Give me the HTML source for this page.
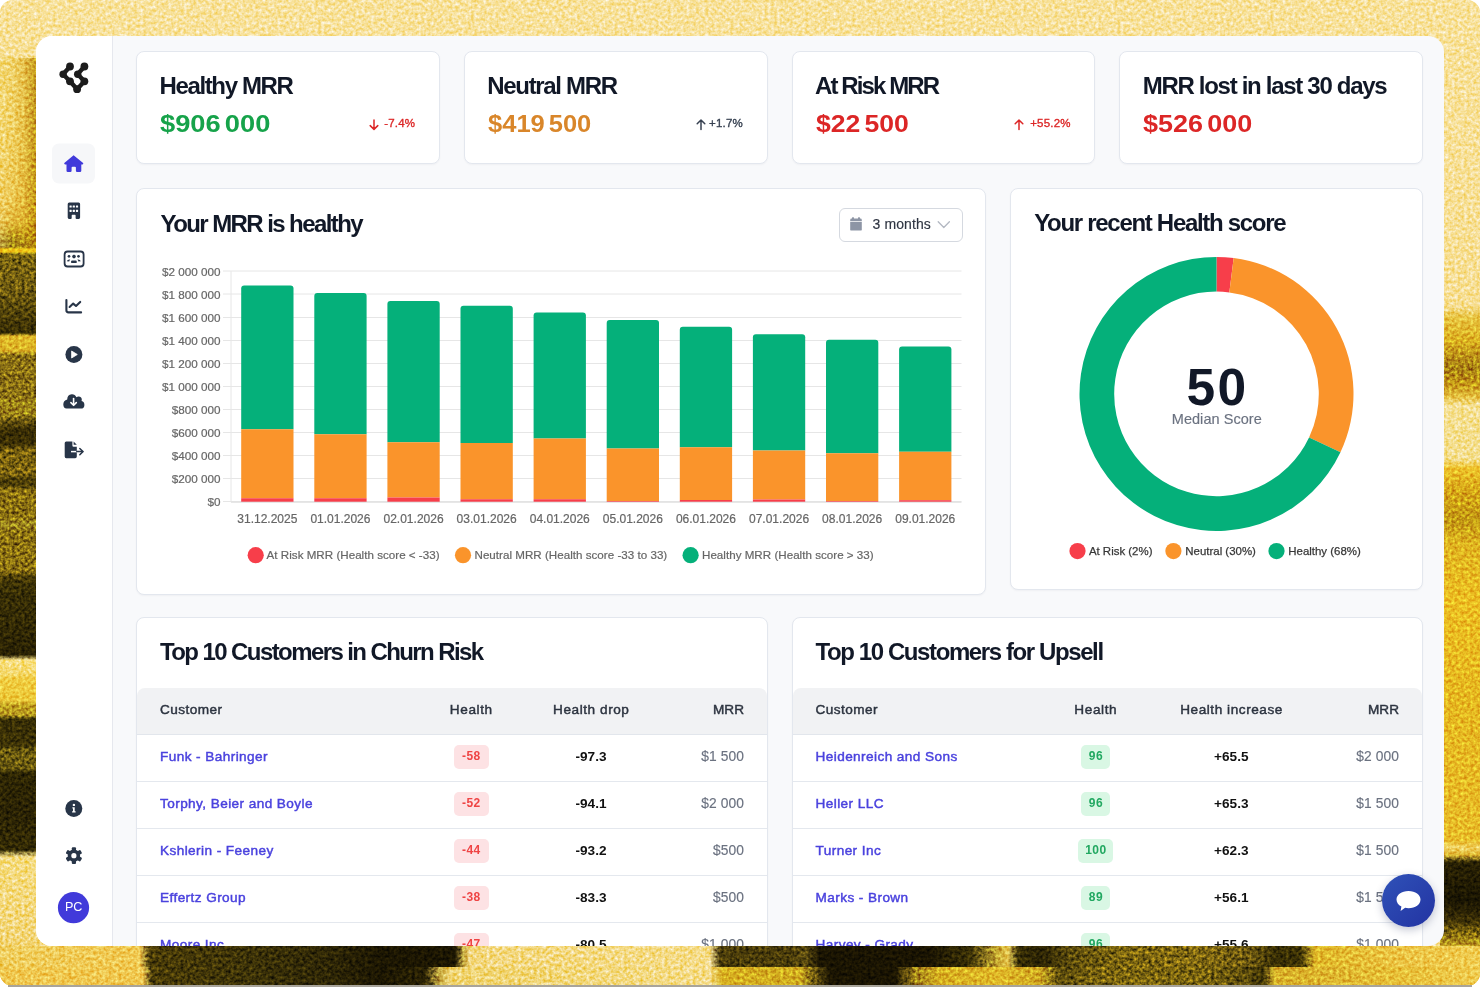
<!DOCTYPE html>
<html>
<head>
<meta charset="utf-8">
<style>
*{box-sizing:border-box;margin:0;padding:0}
html,body{width:1480px;height:987px;overflow:hidden;background:#fff}
body{position:relative;font-family:"Liberation Sans",Arial,sans-serif;color:#111827}
#bg{position:absolute;left:0;top:0;width:1480px;height:986px;border-radius:13px;overflow:hidden;background:#f8e29c}
#bgline{position:absolute;left:8px;top:985px;width:1464px;height:2px;background:#a8a49a}
.strip{position:absolute}
#pc{position:absolute;left:-36px;top:-36px;width:1480px;height:987px}

#sl{left:0;top:0;width:40px;height:986px;background:linear-gradient(to bottom,
 #f8e29c 0,#f7e096 55px,#f0d26a 60px,#f0d062 140px,#ecc650 200px,#e2b83a 222px,#c8a020 232px,#a88818 240px,#9a7c14 247px,
 #f0c818 249px,#f0c818 252px,
 #7a6512 254px,#6e5a10 290px,#5a4a0c 305px,#3e3206 327px,#3a3005 333px,
 #e0b828 336px,#dcb426 351px,
 #8a7015 355px,#8a7015 395px,#9a8018 402px,#9a8018 414px,#6a5610 420px,#3a2e05 430px,#3a2e05 444px,
 #7a6210 450px,#7a6210 474px,#4a3c08 480px,#4a3c08 485px,
 #8a7012 490px,#8a7012 518px,#a08a20 524px,#8a7012 532px,#8a7012 572px,#4a3c08 576px,#4a3c08 580px,
 #3a3006 584px,#332a05 620px,#2a2204 655px,
 #f8e080 660px,#f5da70 672px,#f0cc40 680px,#ecc838 700px,#c0a020 706px,#b89a1e 715px,
 #3a3006 719px,#3a3006 745px,#6a5a10 750px,#6a5a10 768px,
 #2e2604 773px,#2a2204 810px,#342b05 850px,
 #f5dc80 857px,#f3d77c 930px,#f0cc58 986px)}
#sl2{left:0;top:58px;width:40px;height:190px;background:linear-gradient(to right,rgba(250,230,150,.35) 0,rgba(240,208,90,0) 12px,rgba(215,165,25,.35) 24px,rgba(190,140,10,.75) 34px,rgba(170,125,10,.85) 40px);}
#sr{left:1440px;top:0;width:40px;height:986px;background:linear-gradient(to bottom,
 #f8e29c 0,#f7df94 305px,
 #e8c440 318px,#dcb020 340px,#a88014 368px,#c89a18 385px,#e6c040 397px,
 #f5e092 405px,#f4de8c 460px,
 #eec22a 468px,#d8a818 490px,#c49a14 520px,#e0b420 545px,#ecbe22 600px,#e6b820 700px,#e8bc28 840px,
 #f0d060 848px,#e0b830 855px,
 #2a2204 862px,#1a1502 900px,#3a2e06 920px,#8a7010 935px,#d8b028 950px,#e8c444 986px)}
#sb{left:0;top:946px;width:1480px;height:21px;background:linear-gradient(to right,
 #f0cf60 0,#f0c850 140px,#4a3c08 150px,#3c3208 250px,#2e2606 330px,#1c1602 380px,#1c1602 455px,#c8aa40 464px,
 #f3d880 470px,#f5dc88 710px,#4a3c0a 720px,#4a3c0a 790px,#5a4a10 805px,#1a1402 820px,#1a1402 930px,#3a3006 970px,#c8a830 998px,
 #e8c850 1008px,#3a3006 1018px,#2a2204 1040px,#5a4a0c 1070px,#7a6410 1120px,#806812 1200px,#6a5610 1250px,#3a3005 1275px,#3a3005 1300px,
 #e0b828 1315px,#ecc444 1400px,#f0cc50 1480px)}
#sb2{left:0;top:967px;width:1480px;height:19px;background:linear-gradient(to right,
 #f0c850 0,#f0c850 143px,#4a3c08 152px,#3c3208 250px,#2e2606 330px,#1c1602 380px,#2a2204 425px,#c8aa40 440px,
 #f0d470 450px,#f5dc88 710px,#d8b020 722px,#d0aa1e 800px,#6a5610 815px,#1a1402 830px,#1a1402 895px,#a08018 915px,#d8b020 940px,
 #e0b828 1000px,#d0a820 1040px,#5a4a0c 1060px,#7a6410 1100px,#7a6410 1200px,#5a4a0c 1250px,#3a3005 1262px,
 #d8b028 1275px,#e8c038 1400px,#f0cc50 1480px)}
#win{position:absolute;left:36px;top:36px;width:1408px;height:910px;border-radius:16px;overflow:hidden;background:#f8f9fb}
#side{position:absolute;left:0;top:0;width:77px;height:910px;background:#fff;border-right:1px solid #e6e8ee}
.t{position:absolute;white-space:nowrap}
.ic{position:absolute;overflow:visible}
.card{position:absolute;background:#fff;border:1px solid #e3e7ee;border-radius:8px;box-shadow:0 1px 2px rgba(16,24,40,.04)}
</style>
</head>
<body>
<div id="bg">
  <div class="strip" id="sl"></div>
  <div class="strip" id="sl2"></div>
  <div class="strip" id="sr"></div>
  <div class="strip" id="sb"></div>
  <div class="strip" id="sb2"></div>
  <svg id="noise" width="1480" height="986" style="position:absolute;left:0;top:0;mix-blend-mode:overlay">
   <filter id="nf" x="0" y="0" width="100%" height="100%" color-interpolation-filters="sRGB"><feTurbulence type="fractalNoise" baseFrequency="0.32" numOctaves="2" seed="11" stitchTiles="stitch"/><feColorMatrix type="matrix" values="1.1 0 0 0 -0.05  1.1 0 0 0 -0.05  1.1 0 0 0 -0.05  0 0 0 0 1"/><feGaussianBlur stdDeviation="0.45"/></filter>
   <rect width="1480" height="986" filter="url(#nf)"/>
  </svg>
</div>
<div id="bgline"></div>
<div id="win">
  <div id="side"></div>
  <div id="pc">

<svg id="sideicons" width="112" height="987" viewBox="0 0 112 987" style="position:absolute;left:0;top:0">
 <!-- logo -->
 <g stroke="#1c1c1c" stroke-width="4.3" stroke-linecap="round" stroke-linejoin="round" fill="none">
  <polyline points="70,66.5 63.1,74.2 70,81.3 77.1,89.2 84.4,81.3 77.7,74.2 84.4,66.5"/>
 </g>
 <g fill="#1c1c1c">
  <circle cx="70" cy="66.5" r="3.9"/><circle cx="84.4" cy="66.5" r="3.9"/>
  <circle cx="63.1" cy="74.2" r="3.7"/><circle cx="77.7" cy="74.2" r="3.7"/>
  <circle cx="70" cy="81.3" r="3.9"/><circle cx="84.4" cy="81.3" r="3.9"/>
  <circle cx="77.1" cy="89.2" r="3.9"/>
 </g>
 <!-- home active bg -->
 <rect x="52" y="143.5" width="43" height="40" rx="7" fill="#f6f7f9"/>
 <path d="M73.6 155.2 L64.3 162.9 Q63.8 164.2 65.2 164.4 L66.5 164.4 L66.5 170.8 Q66.5 172.1 67.8 172.1 L70.4 172.1 Q71.6 172.1 71.6 170.8 L71.6 167.6 Q71.6 166.7 72.6 166.7 L74.9 166.7 Q75.9 166.7 75.9 167.6 L75.9 170.8 Q75.9 172.1 77.1 172.1 L80 172.1 Q81.3 172.1 81.3 170.8 L81.3 164.4 L82.4 164.4 Q83.8 164.1 83.1 162.9 Z" fill="#413ada"/>
 <g fill="#283548">
  <!-- building -->
  <path d="M69.2 202.4 H78.6 Q80.1 202.4 80.1 203.9 V217.6 Q80.1 218.9 78.8 218.9 H76.6 Q75.6 218.9 75.6 217.9 V215.4 Q75.6 214.8 75 214.8 H72.3 Q71.7 214.8 71.7 215.4 V217.9 Q71.7 218.9 70.7 218.9 H69 Q67.7 218.9 67.7 217.6 V203.9 Q67.7 202.4 69.2 202.4 Z"/>
 </g>
 <g fill="#fff">
  <rect x="69.5" y="205.4" width="2.2" height="2.2" rx=".4"/><rect x="72.7" y="205.4" width="2.2" height="2.2" rx=".4"/><rect x="75.9" y="205.4" width="2.2" height="2.2" rx=".4"/>
  <rect x="69.5" y="209.7" width="2.2" height="2.2" rx=".4"/><rect x="72.7" y="209.7" width="2.2" height="2.2" rx=".4"/><rect x="75.9" y="209.7" width="2.2" height="2.2" rx=".4"/>
 </g>
 <!-- users rectangle -->
 <rect x="64.6" y="251.5" width="19" height="15" rx="3" fill="none" stroke="#283548" stroke-width="1.8"/>
 <g fill="#283548">
  <circle cx="69" cy="256.3" r="1.35"/><circle cx="74" cy="256.6" r="1.8"/><circle cx="78.5" cy="256.3" r="1.35"/>
  <rect x="71" y="260.5" width="5.8" height="2.6" rx="1.2"/>
  <path d="M66.8 261.3 Q67.3 259.5 69.5 259.4 L70.2 259.4 Q69.4 260.3 69.2 261.4 Z"/>
  <path d="M80.8 261.3 Q80.3 259.5 78.1 259.4 L77.4 259.4 Q78.2 260.3 78.4 261.4 Z"/>
 </g>
 <!-- chart line -->
 <g fill="none" stroke="#283548" stroke-width="2.1" stroke-linecap="round" stroke-linejoin="round">
  <path d="M66.4 300.1 V310.3 Q66.4 312.4 68.5 312.4 H81.1"/>
  <polyline points="69.6,307 73.2,303.6 76,306 80.2,301.9"/>
 </g>
 <!-- play circle -->
 <circle cx="73.9" cy="354.5" r="8.5" fill="#283548"/>
 <path d="M71.6 351 L71.6 358 L77.3 354.5 Z" fill="#fff" stroke="#fff" stroke-width=".8" stroke-linejoin="round"/>
 <!-- cloud download -->
 <path d="M66.5 408.6 H80.8 Q84.4 408.6 84.4 404.9 Q84.4 401.6 81.6 401 Q82.6 397.2 79 396.6 Q77.6 396.4 76.4 397.2 Q75 394 71.7 394.2 Q67.2 394.6 67.2 399.6 Q63.3 400.6 63.3 404.6 Q63.5 408.4 66.5 408.6 Z" fill="#283548"/>
 <g fill="none" stroke="#fff" stroke-width="1.6" stroke-linecap="round" stroke-linejoin="round">
  <path d="M73.6 398.6 V405"/><path d="M70.9 402.6 L73.6 405.3 L76.3 402.6"/>
 </g>
 <!-- file export -->
 <path d="M66.2 441.4 H72.4 V445.6 Q72.4 446.8 73.6 446.8 H76.8 V456.6 Q76.8 458.2 75.2 458.2 H66.2 Q64.7 458.2 64.7 456.6 V443 Q64.7 441.4 66.2 441.4 Z" fill="#283548"/>
 <path d="M73.6 441.4 L76.8 444.8 L73.6 444.8 Z" fill="#283548"/>
 <path d="M71 451.6 H76.8" stroke="#fff" stroke-width="1.5"/>
 <g fill="none" stroke="#283548" stroke-width="1.5" stroke-linecap="round" stroke-linejoin="round">
  <path d="M76.8 451.6 H82.8"/><path d="M79.8 448.5 L82.9 451.6 L79.8 454.7"/>
 </g>
 <!-- info -->
 <circle cx="73.8" cy="808.6" r="8.5" fill="#283548"/>
 <circle cx="73.9" cy="804.9" r="1.2" fill="#fff"/>
 <path d="M72.4 807.2 H74.7 V811.2 H75.6 V812.6 H72.1 V811.2 H73 V808.6 H72.4 Z" fill="#fff"/>
 <!-- gear -->
 <g transform="translate(73.9 855.7)">
  <g fill="#283548">
   <circle r="6.2"/>
   <rect x="-2.1" y="-8.4" width="4.2" height="4" rx="1"/>
   <rect x="-2.1" y="-8.4" width="4.2" height="4" rx="1" transform="rotate(60)"/>
   <rect x="-2.1" y="-8.4" width="4.2" height="4" rx="1" transform="rotate(120)"/>
   <rect x="-2.1" y="-8.4" width="4.2" height="4" rx="1" transform="rotate(180)"/>
   <rect x="-2.1" y="-8.4" width="4.2" height="4" rx="1" transform="rotate(240)"/>
   <rect x="-2.1" y="-8.4" width="4.2" height="4" rx="1" transform="rotate(300)"/>
  </g>
  <circle r="2.6" fill="#fff"/>
 </g>
 <!-- avatar -->
 <circle cx="73.5" cy="907.7" r="15.6" fill="#413ada"/>
 <text x="73.6" y="911.3" text-anchor="middle" font-family="Liberation Sans, Arial, sans-serif" font-size="12.6" letter-spacing="-0.2" fill="#fff">PC</text>
</svg>

<div class="card" style="left:136px;top:50.5px;width:303.75px;height:113.25px;"></div>
<div class="t" style="top:71.08px;font-size:24px;line-height:30px;color:#111827;font-weight:700;letter-spacing:-1.37px;left:159.50px;">Healthy MRR</div>
<div class="t" style="top:109.48px;font-size:24px;line-height:30px;color:#16a34a;font-weight:700;left:160.00px;word-spacing:-3px;transform:scaleX(1.1365);transform-origin:0 0;">$906 000</div>
<div class="t" style="top:116.42px;font-size:11.5px;line-height:14px;color:#dc2626;letter-spacing:0.2px;left:-184.80px;width:600px;text-align:right;-webkit-text-stroke:0.35px #dc2626;">-7.4%</div>
<svg class="ic" style="left:369.1px;top:117px" width="10" height="14" viewBox="0 0 10 14"><path d="M5 3V12.3M1.2 8.6L5 12.4L8.8 8.6" fill="none" stroke="#dc2626" stroke-width="1.5" stroke-linecap="round" stroke-linejoin="round"/></svg>
<div class="card" style="left:463.75px;top:50.5px;width:303.75px;height:113.25px;"></div>
<div class="t" style="top:71.08px;font-size:24px;line-height:30px;color:#111827;font-weight:700;letter-spacing:-1.32px;left:487.25px;">Neutral MRR</div>
<div class="t" style="top:109.48px;font-size:24px;line-height:30px;color:#d9862a;font-weight:700;left:487.75px;word-spacing:-3px;transform:scaleX(1.0635);transform-origin:0 0;">$419 500</div>
<div class="t" style="top:116.42px;font-size:11.5px;line-height:14px;color:#374151;letter-spacing:0.2px;left:142.95px;width:600px;text-align:right;-webkit-text-stroke:0.35px #374151;">+1.7%</div>
<svg class="ic" style="left:695.6px;top:117px" width="10" height="14" viewBox="0 0 10 14"><path d="M5 12.4V3.1M1.2 6.8L5 3L8.8 6.8" fill="none" stroke="#374151" stroke-width="1.5" stroke-linecap="round" stroke-linejoin="round"/></svg>
<div class="card" style="left:791.5px;top:50.5px;width:303.75px;height:113.25px;"></div>
<div class="t" style="top:71.08px;font-size:24px;line-height:30px;color:#111827;font-weight:700;letter-spacing:-1.9px;left:815.00px;">At Risk MRR</div>
<div class="t" style="top:109.48px;font-size:24px;line-height:30px;color:#dc2626;font-weight:700;left:815.50px;word-spacing:-3px;transform:scaleX(1.1072);transform-origin:0 0;">$22 500</div>
<div class="t" style="top:116.42px;font-size:11.5px;line-height:14px;color:#dc2626;letter-spacing:0.2px;left:470.70px;width:600px;text-align:right;-webkit-text-stroke:0.35px #dc2626;">+55.2%</div>
<svg class="ic" style="left:1014.0px;top:117px" width="10" height="14" viewBox="0 0 10 14"><path d="M5 12.4V3.1M1.2 6.8L5 3L8.8 6.8" fill="none" stroke="#dc2626" stroke-width="1.5" stroke-linecap="round" stroke-linejoin="round"/></svg>
<div class="card" style="left:1119.25px;top:50.5px;width:303.75px;height:113.25px;"></div>
<div class="t" style="top:71.08px;font-size:24px;line-height:30px;color:#111827;font-weight:700;letter-spacing:-1.3px;left:1142.75px;">MRR lost in last 30 days</div>
<div class="t" style="top:109.48px;font-size:24px;line-height:30px;color:#dc2626;font-weight:700;left:1143.25px;word-spacing:-3px;transform:scaleX(1.124);transform-origin:0 0;">$526 000</div>
<div class="card" style="left:136px;top:187.75px;width:850px;height:406.75px;"></div>
<div class="t" style="top:209.18px;font-size:24px;line-height:30px;color:#111827;font-weight:700;letter-spacing:-1.59px;left:160.60px;">Your MRR is healthy</div>
<div style="position:absolute;left:839px;top:208px;width:123.5px;height:33.5px;border:1.3px solid #d5d9e0;border-radius:6px;background:#fff"></div>
<svg class="ic" style="left:849px;top:216px" width="14" height="16" viewBox="0 0 14 16">
<path d="M2.6 2.6 H11.4 Q12.8 2.6 12.8 4 V5 H1.2 V4 Q1.2 2.6 2.6 2.6 Z" fill="#8d95a5"/>
<rect x="3" y="1.2" width="2" height="2.6" rx=".6" fill="#8d95a5"/><rect x="9" y="1.2" width="2" height="2.6" rx=".6" fill="#8d95a5"/>
<path d="M1.2 5.8 H12.8 V13.4 Q12.8 14.6 11.6 14.6 H2.4 Q1.2 14.6 1.2 13.4 Z" fill="#8d95a5"/>
</svg>
<div class="t" style="top:214.85px;font-size:14px;line-height:18px;color:#2f3542;letter-spacing:0.1px;left:872.50px;-webkit-text-stroke:0.15px #2f3542;">3 months</div>
<svg class="ic" style="left:936px;top:219px" width="16" height="12" viewBox="0 0 16 12"><path d="M2.2 2.8 L7.8 8.5 L13.4 2.8" fill="none" stroke="#b3b8c2" stroke-width="1.3" stroke-linecap="round" stroke-linejoin="round"/></svg>
<div class="card" style="left:1010px;top:187.75px;width:413px;height:402.5px;"></div>
<svg class="ic" style="left:0;top:0" width="1480" height="987" viewBox="0 0 1480 987">
<line x1="223" y1="501.5" x2="961.5" y2="501.5" stroke="#e6e6e6" stroke-width="1"/>
<line x1="223" y1="478.5" x2="961.5" y2="478.5" stroke="#e6e6e6" stroke-width="1"/>
<line x1="223" y1="455.5" x2="961.5" y2="455.5" stroke="#e6e6e6" stroke-width="1"/>
<line x1="223" y1="432.5" x2="961.5" y2="432.5" stroke="#e6e6e6" stroke-width="1"/>
<line x1="223" y1="409.5" x2="961.5" y2="409.5" stroke="#e6e6e6" stroke-width="1"/>
<line x1="223" y1="386.5" x2="961.5" y2="386.5" stroke="#e6e6e6" stroke-width="1"/>
<line x1="223" y1="363.5" x2="961.5" y2="363.5" stroke="#e6e6e6" stroke-width="1"/>
<line x1="223" y1="340.5" x2="961.5" y2="340.5" stroke="#e6e6e6" stroke-width="1"/>
<line x1="223" y1="317.5" x2="961.5" y2="317.5" stroke="#e6e6e6" stroke-width="1"/>
<line x1="223" y1="294.0" x2="961.5" y2="294.0" stroke="#e6e6e6" stroke-width="1"/>
<line x1="223" y1="271.0" x2="961.5" y2="271.0" stroke="#e6e6e6" stroke-width="1"/>
<line x1="231" y1="271.2" x2="231" y2="502.2" stroke="#e6e6e6" stroke-width="1"/>
<path d="M241.20 429.25 V288.50 Q241.20 285.50 244.20 285.50 H290.50 Q293.50 285.50 293.50 288.50 V429.25 Z" fill="#05b07a"/>
<rect x="241.20" y="429.25" width="52.3" height="69.00" fill="#fa942b"/>
<rect x="241.20" y="498.25" width="52.3" height="3.75" fill="#f73e4a"/>
<path d="M314.30 434.25 V296.00 Q314.30 293.00 317.30 293.00 H363.60 Q366.60 293.00 366.60 296.00 V434.25 Z" fill="#05b07a"/>
<rect x="314.30" y="434.25" width="52.3" height="64.00" fill="#fa942b"/>
<rect x="314.30" y="498.25" width="52.3" height="3.75" fill="#f73e4a"/>
<path d="M387.40 442.25 V304.00 Q387.40 301.00 390.40 301.00 H436.70 Q439.70 301.00 439.70 304.00 V442.25 Z" fill="#05b07a"/>
<rect x="387.40" y="442.25" width="52.3" height="55.25" fill="#fa942b"/>
<rect x="387.40" y="497.50" width="52.3" height="4.50" fill="#f73e4a"/>
<path d="M460.50 443.00 V308.75 Q460.50 305.75 463.50 305.75 H509.80 Q512.80 305.75 512.80 308.75 V443.00 Z" fill="#05b07a"/>
<rect x="460.50" y="443.00" width="52.3" height="56.25" fill="#fa942b"/>
<rect x="460.50" y="499.25" width="52.3" height="2.75" fill="#f73e4a"/>
<path d="M533.60 438.50 V315.50 Q533.60 312.50 536.60 312.50 H582.90 Q585.90 312.50 585.90 315.50 V438.50 Z" fill="#05b07a"/>
<rect x="533.60" y="438.50" width="52.3" height="60.75" fill="#fa942b"/>
<rect x="533.60" y="499.25" width="52.3" height="2.75" fill="#f73e4a"/>
<path d="M606.70 448.50 V323.00 Q606.70 320.00 609.70 320.00 H656.00 Q659.00 320.00 659.00 323.00 V448.50 Z" fill="#05b07a"/>
<rect x="606.70" y="448.50" width="52.3" height="52.50" fill="#fa942b"/>
<rect x="606.70" y="501.00" width="52.3" height="1.00" fill="#f73e4a"/>
<path d="M679.80 447.25 V329.75 Q679.80 326.75 682.80 326.75 H729.10 Q732.10 326.75 732.10 329.75 V447.25 Z" fill="#05b07a"/>
<rect x="679.80" y="447.25" width="52.3" height="52.75" fill="#fa942b"/>
<rect x="679.80" y="500.00" width="52.3" height="2.00" fill="#f73e4a"/>
<path d="M752.90 450.50 V337.25 Q752.90 334.25 755.90 334.25 H802.20 Q805.20 334.25 805.20 337.25 V450.50 Z" fill="#05b07a"/>
<rect x="752.90" y="450.50" width="52.3" height="49.00" fill="#fa942b"/>
<rect x="752.90" y="499.50" width="52.3" height="2.50" fill="#f73e4a"/>
<path d="M826.00 453.25 V342.75 Q826.00 339.75 829.00 339.75 H875.30 Q878.30 339.75 878.30 342.75 V453.25 Z" fill="#05b07a"/>
<rect x="826.00" y="453.25" width="52.3" height="47.75" fill="#fa942b"/>
<rect x="826.00" y="501.00" width="52.3" height="1.00" fill="#f73e4a"/>
<path d="M899.10 451.75 V349.50 Q899.10 346.50 902.10 346.50 H948.40 Q951.40 346.50 951.40 349.50 V451.75 Z" fill="#05b07a"/>
<rect x="899.10" y="451.75" width="52.3" height="48.45" fill="#fa942b"/>
<rect x="899.10" y="500.20" width="52.3" height="1.80" fill="#f73e4a"/>
<line x1="231" y1="502.2" x2="961.5" y2="502.2" stroke="#dcdcdc" stroke-width="1"/>
<circle cx="255.7" cy="555.2" r="8.1" fill="#f73e4a"/>
<circle cx="463" cy="555.2" r="8.1" fill="#fa942b"/>
<circle cx="690.6" cy="555.2" r="8.1" fill="#05b07a"/>
<path d="M1216.50 256.90 A137 137 0 0 1 1233.67 257.98 L1229.32 292.41 A102.3 102.3 0 0 0 1216.50 291.60 Z" fill="#f73e4a"/>
<path d="M1233.67 257.98 A137 137 0 0 1 1340.46 452.23 L1309.06 437.46 A102.3 102.3 0 0 0 1229.32 292.41 Z" fill="#fa942b"/>
<path d="M1340.46 452.23 A137 137 0 1 1 1216.50 256.90 L1216.50 291.60 A102.3 102.3 0 1 0 1309.06 437.46 Z" fill="#05b07a"/>
<circle cx="1077.5" cy="551.1" r="8.1" fill="#f73e4a"/>
<circle cx="1173.4" cy="551.1" r="8.1" fill="#fa942b"/>
<circle cx="1276.5" cy="551.1" r="8.1" fill="#05b07a"/>
</svg>
<div class="t" style="top:494.15px;font-size:11.7px;line-height:15px;color:#666666;left:-379.40px;width:600px;text-align:right;-webkit-text-stroke:0.2px #666;">$0</div>
<div class="t" style="top:471.10px;font-size:11.7px;line-height:15px;color:#666666;left:-379.40px;width:600px;text-align:right;-webkit-text-stroke:0.2px #666;">$200 000</div>
<div class="t" style="top:448.05px;font-size:11.7px;line-height:15px;color:#666666;left:-379.40px;width:600px;text-align:right;-webkit-text-stroke:0.2px #666;">$400 000</div>
<div class="t" style="top:425.00px;font-size:11.7px;line-height:15px;color:#666666;left:-379.40px;width:600px;text-align:right;-webkit-text-stroke:0.2px #666;">$600 000</div>
<div class="t" style="top:401.95px;font-size:11.7px;line-height:15px;color:#666666;left:-379.40px;width:600px;text-align:right;-webkit-text-stroke:0.2px #666;">$800 000</div>
<div class="t" style="top:378.90px;font-size:11.7px;line-height:15px;color:#666666;left:-379.40px;width:600px;text-align:right;-webkit-text-stroke:0.2px #666;">$1 000 000</div>
<div class="t" style="top:355.85px;font-size:11.7px;line-height:15px;color:#666666;left:-379.40px;width:600px;text-align:right;-webkit-text-stroke:0.2px #666;">$1 200 000</div>
<div class="t" style="top:332.80px;font-size:11.7px;line-height:15px;color:#666666;left:-379.40px;width:600px;text-align:right;-webkit-text-stroke:0.2px #666;">$1 400 000</div>
<div class="t" style="top:309.75px;font-size:11.7px;line-height:15px;color:#666666;left:-379.40px;width:600px;text-align:right;-webkit-text-stroke:0.2px #666;">$1 600 000</div>
<div class="t" style="top:286.70px;font-size:11.7px;line-height:15px;color:#666666;left:-379.40px;width:600px;text-align:right;-webkit-text-stroke:0.2px #666;">$1 800 000</div>
<div class="t" style="top:263.65px;font-size:11.7px;line-height:15px;color:#666666;left:-379.40px;width:600px;text-align:right;-webkit-text-stroke:0.2px #666;">$2 000 000</div>
<div class="t" style="top:511.94px;font-size:12px;line-height:15px;color:#666666;left:-32.65px;width:600px;text-align:center;-webkit-text-stroke:0.2px #666;">31.12.2025</div>
<div class="t" style="top:511.94px;font-size:12px;line-height:15px;color:#666666;left:40.45px;width:600px;text-align:center;-webkit-text-stroke:0.2px #666;">01.01.2026</div>
<div class="t" style="top:511.94px;font-size:12px;line-height:15px;color:#666666;left:113.55px;width:600px;text-align:center;-webkit-text-stroke:0.2px #666;">02.01.2026</div>
<div class="t" style="top:511.94px;font-size:12px;line-height:15px;color:#666666;left:186.65px;width:600px;text-align:center;-webkit-text-stroke:0.2px #666;">03.01.2026</div>
<div class="t" style="top:511.94px;font-size:12px;line-height:15px;color:#666666;left:259.75px;width:600px;text-align:center;-webkit-text-stroke:0.2px #666;">04.01.2026</div>
<div class="t" style="top:511.94px;font-size:12px;line-height:15px;color:#666666;left:332.85px;width:600px;text-align:center;-webkit-text-stroke:0.2px #666;">05.01.2026</div>
<div class="t" style="top:511.94px;font-size:12px;line-height:15px;color:#666666;left:405.95px;width:600px;text-align:center;-webkit-text-stroke:0.2px #666;">06.01.2026</div>
<div class="t" style="top:511.94px;font-size:12px;line-height:15px;color:#666666;left:479.05px;width:600px;text-align:center;-webkit-text-stroke:0.2px #666;">07.01.2026</div>
<div class="t" style="top:511.94px;font-size:12px;line-height:15px;color:#666666;left:552.15px;width:600px;text-align:center;-webkit-text-stroke:0.2px #666;">08.01.2026</div>
<div class="t" style="top:511.94px;font-size:12px;line-height:15px;color:#666666;left:625.25px;width:600px;text-align:center;-webkit-text-stroke:0.2px #666;">09.01.2026</div>
<div class="t" style="top:547.78px;font-size:11.6px;line-height:14px;color:#666666;letter-spacing:0.02px;left:266.60px;-webkit-text-stroke:0.2px #666;">At Risk MRR (Health score &lt; -33)</div>
<div class="t" style="top:547.78px;font-size:11.6px;line-height:14px;color:#666666;letter-spacing:0.02px;left:474.50px;-webkit-text-stroke:0.2px #666;">Neutral MRR (Health score -33 to 33)</div>
<div class="t" style="top:547.78px;font-size:11.6px;line-height:14px;color:#666666;letter-spacing:0.02px;left:702.00px;-webkit-text-stroke:0.2px #666;">Healthy MRR (Health score &gt; 33)</div>
<div class="t" style="top:207.68px;font-size:24px;line-height:30px;color:#111827;font-weight:700;letter-spacing:-1.3px;left:1034.20px;">Your recent Health score</div>
<div class="t" style="top:354.76px;font-size:51.5px;line-height:64px;color:#111827;font-weight:700;letter-spacing:2.2px;left:917.40px;width:600px;text-align:center;">50</div>
<div class="t" style="top:410.18px;font-size:14.5px;line-height:18px;color:#6b7280;letter-spacing:0.05px;left:916.82px;width:600px;text-align:center;-webkit-text-stroke:0.15px #6b7280;">Median Score</div>
<div class="t" style="top:543.93px;font-size:11.45px;line-height:14px;color:#3a3a3a;left:1088.90px;-webkit-text-stroke:0.25px #333;">At Risk (2%)</div>
<div class="t" style="top:543.93px;font-size:11.45px;line-height:14px;color:#3a3a3a;left:1185.30px;-webkit-text-stroke:0.25px #333;">Neutral (30%)</div>
<div class="t" style="top:543.93px;font-size:11.45px;line-height:14px;color:#3a3a3a;left:1288.30px;-webkit-text-stroke:0.25px #333;">Healthy (68%)</div>
<div class="card" style="left:136px;top:616.8px;width:631.5px;height:400px;overflow:hidden"></div>
<div style="position:absolute;left:137px;top:688px;width:629.5px;height:47px;background:#f1f2f4;border-bottom:1px solid #e2e6ec;border-radius:8px 8px 0 0"></div>
<div style="position:absolute;left:137px;top:781px;width:629.5px;height:1px;background:#e4e8ee"></div>
<div style="position:absolute;left:137px;top:828px;width:629.5px;height:1px;background:#e4e8ee"></div>
<div style="position:absolute;left:137px;top:875px;width:629.5px;height:1px;background:#e4e8ee"></div>
<div style="position:absolute;left:137px;top:922px;width:629.5px;height:1px;background:#e4e8ee"></div>
<div class="t" style="top:637.48px;font-size:24px;line-height:30px;color:#111827;font-weight:700;letter-spacing:-1.59px;left:160.00px;">Top 10 Customers in Churn Risk</div>
<div class="t" style="top:700.99px;font-size:13.6px;line-height:17px;color:#2d3440;letter-spacing:0.45px;left:160.00px;-webkit-text-stroke:0.45px #2d3440;">Customer</div>
<div class="t" style="top:700.99px;font-size:13.6px;line-height:17px;color:#2d3440;letter-spacing:0.6px;left:171.30px;width:600px;text-align:center;-webkit-text-stroke:0.45px #2d3440;">Health</div>
<div class="t" style="top:700.99px;font-size:13.6px;line-height:17px;color:#2d3440;letter-spacing:0.55px;left:291.27px;width:600px;text-align:center;-webkit-text-stroke:0.45px #2d3440;">Health drop</div>
<div class="t" style="top:700.99px;font-size:13.6px;line-height:17px;color:#2d3440;left:144.00px;width:600px;text-align:right;-webkit-text-stroke:0.45px #2d3440;">MRR</div>
<div class="t" style="top:748.09px;font-size:13.6px;line-height:17px;color:#4a42de;letter-spacing:0.42px;left:160.00px;-webkit-text-stroke:0.45px #4a42de;">Funk - Bahringer</div>
<div style="position:absolute;left:453.50px;top:745.40px;width:35px;height:23.3px;border-radius:5px;background:#fde2e4"></div>
<div class="t" style="top:748.94px;font-size:12px;line-height:15px;color:#ef4444;font-weight:700;letter-spacing:0.4px;left:171.40px;width:600px;text-align:center;">-58</div>
<div class="t" style="top:748.09px;font-size:13.6px;line-height:17px;color:#111111;font-weight:700;left:291.00px;width:600px;text-align:center;">-97.3</div>
<div class="t" style="top:748.02px;font-size:13.8px;line-height:17px;color:#6b7280;letter-spacing:0.1px;left:144.10px;width:600px;text-align:right;-webkit-text-stroke:0.15px #6b7280;">$1 500</div>
<div class="t" style="top:795.09px;font-size:13.6px;line-height:17px;color:#4a42de;letter-spacing:0.42px;left:160.00px;-webkit-text-stroke:0.45px #4a42de;">Torphy, Beier and Boyle</div>
<div style="position:absolute;left:453.50px;top:792.40px;width:35px;height:23.3px;border-radius:5px;background:#fde2e4"></div>
<div class="t" style="top:795.94px;font-size:12px;line-height:15px;color:#ef4444;font-weight:700;letter-spacing:0.4px;left:171.40px;width:600px;text-align:center;">-52</div>
<div class="t" style="top:795.09px;font-size:13.6px;line-height:17px;color:#111111;font-weight:700;left:291.00px;width:600px;text-align:center;">-94.1</div>
<div class="t" style="top:795.02px;font-size:13.8px;line-height:17px;color:#6b7280;letter-spacing:0.1px;left:144.10px;width:600px;text-align:right;-webkit-text-stroke:0.15px #6b7280;">$2 000</div>
<div class="t" style="top:842.09px;font-size:13.6px;line-height:17px;color:#4a42de;letter-spacing:0.42px;left:160.00px;-webkit-text-stroke:0.45px #4a42de;">Kshlerin - Feeney</div>
<div style="position:absolute;left:453.50px;top:839.40px;width:35px;height:23.3px;border-radius:5px;background:#fde2e4"></div>
<div class="t" style="top:842.94px;font-size:12px;line-height:15px;color:#ef4444;font-weight:700;letter-spacing:0.4px;left:171.40px;width:600px;text-align:center;">-44</div>
<div class="t" style="top:842.09px;font-size:13.6px;line-height:17px;color:#111111;font-weight:700;left:291.00px;width:600px;text-align:center;">-93.2</div>
<div class="t" style="top:842.02px;font-size:13.8px;line-height:17px;color:#6b7280;letter-spacing:0.1px;left:144.10px;width:600px;text-align:right;-webkit-text-stroke:0.15px #6b7280;">$500</div>
<div class="t" style="top:889.09px;font-size:13.6px;line-height:17px;color:#4a42de;letter-spacing:0.42px;left:160.00px;-webkit-text-stroke:0.45px #4a42de;">Effertz Group</div>
<div style="position:absolute;left:453.50px;top:886.40px;width:35px;height:23.3px;border-radius:5px;background:#fde2e4"></div>
<div class="t" style="top:889.94px;font-size:12px;line-height:15px;color:#ef4444;font-weight:700;letter-spacing:0.4px;left:171.40px;width:600px;text-align:center;">-38</div>
<div class="t" style="top:889.09px;font-size:13.6px;line-height:17px;color:#111111;font-weight:700;left:291.00px;width:600px;text-align:center;">-83.3</div>
<div class="t" style="top:889.02px;font-size:13.8px;line-height:17px;color:#6b7280;letter-spacing:0.1px;left:144.10px;width:600px;text-align:right;-webkit-text-stroke:0.15px #6b7280;">$500</div>
<div class="t" style="top:936.09px;font-size:13.6px;line-height:17px;color:#4a42de;letter-spacing:0.42px;left:160.00px;-webkit-text-stroke:0.45px #4a42de;">Moore Inc</div>
<div style="position:absolute;left:453.50px;top:933.40px;width:35px;height:23.3px;border-radius:5px;background:#fde2e4"></div>
<div class="t" style="top:936.94px;font-size:12px;line-height:15px;color:#ef4444;font-weight:700;letter-spacing:0.4px;left:171.40px;width:600px;text-align:center;">-47</div>
<div class="t" style="top:936.09px;font-size:13.6px;line-height:17px;color:#111111;font-weight:700;left:291.00px;width:600px;text-align:center;">-80.5</div>
<div class="t" style="top:936.02px;font-size:13.8px;line-height:17px;color:#6b7280;letter-spacing:0.1px;left:144.10px;width:600px;text-align:right;-webkit-text-stroke:0.15px #6b7280;">$1 000</div>
<div class="card" style="left:791.5px;top:616.8px;width:631.5px;height:400px;overflow:hidden"></div>
<div style="position:absolute;left:792.5px;top:688px;width:629.5px;height:47px;background:#f1f2f4;border-bottom:1px solid #e2e6ec;border-radius:8px 8px 0 0"></div>
<div style="position:absolute;left:792.5px;top:781px;width:629.5px;height:1px;background:#e4e8ee"></div>
<div style="position:absolute;left:792.5px;top:828px;width:629.5px;height:1px;background:#e4e8ee"></div>
<div style="position:absolute;left:792.5px;top:875px;width:629.5px;height:1px;background:#e4e8ee"></div>
<div style="position:absolute;left:792.5px;top:922px;width:629.5px;height:1px;background:#e4e8ee"></div>
<div class="t" style="top:637.48px;font-size:24px;line-height:30px;color:#111827;font-weight:700;letter-spacing:-1.4px;left:815.50px;">Top 10 Customers for Upsell</div>
<div class="t" style="top:700.99px;font-size:13.6px;line-height:17px;color:#2d3440;letter-spacing:0.45px;left:815.50px;-webkit-text-stroke:0.45px #2d3440;">Customer</div>
<div class="t" style="top:700.99px;font-size:13.6px;line-height:17px;color:#2d3440;letter-spacing:0.6px;left:795.80px;width:600px;text-align:center;-webkit-text-stroke:0.45px #2d3440;">Health</div>
<div class="t" style="top:700.99px;font-size:13.6px;line-height:17px;color:#2d3440;letter-spacing:0.55px;left:931.57px;width:600px;text-align:center;-webkit-text-stroke:0.45px #2d3440;">Health increase</div>
<div class="t" style="top:700.99px;font-size:13.6px;line-height:17px;color:#2d3440;left:799.00px;width:600px;text-align:right;-webkit-text-stroke:0.45px #2d3440;">MRR</div>
<div class="t" style="top:748.09px;font-size:13.6px;line-height:17px;color:#4a42de;letter-spacing:0.42px;left:815.50px;-webkit-text-stroke:0.45px #4a42de;">Heidenreich and Sons</div>
<div style="position:absolute;left:1080.75px;top:745.40px;width:29.5px;height:23.3px;border-radius:5px;background:#d9f7e4"></div>
<div class="t" style="top:748.94px;font-size:12px;line-height:15px;color:#22a861;font-weight:700;letter-spacing:0.4px;left:795.90px;width:600px;text-align:center;">96</div>
<div class="t" style="top:748.09px;font-size:13.6px;line-height:17px;color:#111111;font-weight:700;left:931.30px;width:600px;text-align:center;">+65.5</div>
<div class="t" style="top:748.02px;font-size:13.8px;line-height:17px;color:#6b7280;letter-spacing:0.1px;left:799.10px;width:600px;text-align:right;-webkit-text-stroke:0.15px #6b7280;">$2 000</div>
<div class="t" style="top:795.09px;font-size:13.6px;line-height:17px;color:#4a42de;letter-spacing:0.42px;left:815.50px;-webkit-text-stroke:0.45px #4a42de;">Heller LLC</div>
<div style="position:absolute;left:1080.75px;top:792.40px;width:29.5px;height:23.3px;border-radius:5px;background:#d9f7e4"></div>
<div class="t" style="top:795.94px;font-size:12px;line-height:15px;color:#22a861;font-weight:700;letter-spacing:0.4px;left:795.90px;width:600px;text-align:center;">96</div>
<div class="t" style="top:795.09px;font-size:13.6px;line-height:17px;color:#111111;font-weight:700;left:931.30px;width:600px;text-align:center;">+65.3</div>
<div class="t" style="top:795.02px;font-size:13.8px;line-height:17px;color:#6b7280;letter-spacing:0.1px;left:799.10px;width:600px;text-align:right;-webkit-text-stroke:0.15px #6b7280;">$1 500</div>
<div class="t" style="top:842.09px;font-size:13.6px;line-height:17px;color:#4a42de;letter-spacing:0.42px;left:815.50px;-webkit-text-stroke:0.45px #4a42de;">Turner Inc</div>
<div style="position:absolute;left:1078.00px;top:839.40px;width:35px;height:23.3px;border-radius:5px;background:#d9f7e4"></div>
<div class="t" style="top:842.94px;font-size:12px;line-height:15px;color:#22a861;font-weight:700;letter-spacing:0.4px;left:795.90px;width:600px;text-align:center;">100</div>
<div class="t" style="top:842.09px;font-size:13.6px;line-height:17px;color:#111111;font-weight:700;left:931.30px;width:600px;text-align:center;">+62.3</div>
<div class="t" style="top:842.02px;font-size:13.8px;line-height:17px;color:#6b7280;letter-spacing:0.1px;left:799.10px;width:600px;text-align:right;-webkit-text-stroke:0.15px #6b7280;">$1 500</div>
<div class="t" style="top:889.09px;font-size:13.6px;line-height:17px;color:#4a42de;letter-spacing:0.42px;left:815.50px;-webkit-text-stroke:0.45px #4a42de;">Marks - Brown</div>
<div style="position:absolute;left:1080.75px;top:886.40px;width:29.5px;height:23.3px;border-radius:5px;background:#d9f7e4"></div>
<div class="t" style="top:889.94px;font-size:12px;line-height:15px;color:#22a861;font-weight:700;letter-spacing:0.4px;left:795.90px;width:600px;text-align:center;">89</div>
<div class="t" style="top:889.09px;font-size:13.6px;line-height:17px;color:#111111;font-weight:700;left:931.30px;width:600px;text-align:center;">+56.1</div>
<div class="t" style="top:889.02px;font-size:13.8px;line-height:17px;color:#6b7280;letter-spacing:0.1px;left:799.10px;width:600px;text-align:right;-webkit-text-stroke:0.15px #6b7280;">$1 500</div>
<div class="t" style="top:936.09px;font-size:13.6px;line-height:17px;color:#4a42de;letter-spacing:0.42px;left:815.50px;-webkit-text-stroke:0.45px #4a42de;">Harvey - Grady</div>
<div style="position:absolute;left:1080.75px;top:933.40px;width:29.5px;height:23.3px;border-radius:5px;background:#d9f7e4"></div>
<div class="t" style="top:936.94px;font-size:12px;line-height:15px;color:#22a861;font-weight:700;letter-spacing:0.4px;left:795.90px;width:600px;text-align:center;">96</div>
<div class="t" style="top:936.09px;font-size:13.6px;line-height:17px;color:#111111;font-weight:700;left:931.30px;width:600px;text-align:center;">+55.6</div>
<div class="t" style="top:936.02px;font-size:13.8px;line-height:17px;color:#6b7280;letter-spacing:0.1px;left:799.10px;width:600px;text-align:right;-webkit-text-stroke:0.15px #6b7280;">$1 000</div>
<div style="position:absolute;left:1382px;top:874.3px;width:53px;height:53px;border-radius:50%;background:linear-gradient(135deg,#2f52b8,#2333a2);box-shadow:0 3px 8px rgba(20,30,80,.25)"></div>
<svg class="ic" style="left:1382px;top:874.3px" width="53" height="53" viewBox="0 0 53 53"><path d="M26.5 17 C33.5 17 38.5 20.6 38.5 25.6 C38.5 30.6 33.5 34.2 26.5 34.2 C25.3 34.2 24.2 34.1 23.1 33.8 L18.6 37 L19.4 32.6 C16.2 31 14.5 28.5 14.5 25.6 C14.5 20.6 19.5 17 26.5 17 Z" fill="#fff"/></svg>
  </div>
</div>
</body>
</html>
